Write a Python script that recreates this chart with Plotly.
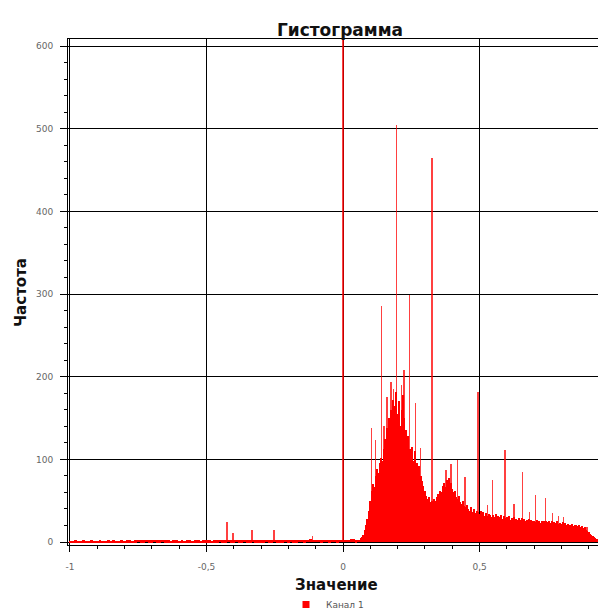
import plotly.graph_objects as go

# ---- data ----
# low-level counts, bins of 0.01 from -1.00 to 0.04
low_start = -1.0
low_width = 0.01
low_counts = [
    1, 1, 2, 1, 1, 2, 1, 1, 2, 1,
    1, 2, 1, 1, 2, 1, 2, 1, 1, 2,
    1, 2, 2, 1, 2, 3, 2, 2, 3, 2,
    2, 3, 2, 2, 3, 2, 2, 1, 2, 2,
    1, 2, 1, 2, 2, 1, 2, 2, 1, 2,
    2, 2, 1, 2, 2, 3, 2, 2, 3, 2,
    2, 3, 2, 2, 3, 2, 2, 3, 2, 2,
    2, 2, 3, 2, 2, 3, 2, 2, 2, 3,
    2, 3, 2, 2, 3, 3, 2, 3, 4, 3,
    3, 3, 2, 3, 3, 2, 3, 3, 2, 3,
    3, 3, 3, 4, 4,
]

# main body counts, bins of 0.005 from 0.050 to 0.945
body_start = 0.05
body_width = 0.005
body_counts = [
    2, 3, 3, 5, 6, 9, 14, 20, 28, 38,
    50, 62, 70, 66, 80, 88, 84, 95, 102, 98,
    112, 125, 138, 128, 150, 160, 148, 172, 165, 182,
    155, 170, 140, 160, 178, 150, 135, 120, 128, 112,
    105, 115, 98, 110, 95, 88, 92, 80, 74, 68,
    62, 56, 52, 55, 48, 50, 46, 52, 50, 55,
    58, 62, 60, 68, 72, 66, 75, 70, 78, 72,
    64, 60, 62, 55, 52, 56, 48, 46, 50, 44,
    42, 45, 40, 38, 42, 36, 40, 35, 38, 36,
    34, 38, 33, 36, 32, 35, 31, 34, 33, 30,
    33, 30, 34, 29, 32, 30, 33, 28, 31, 29,
    30, 28, 31, 27, 29, 30, 26, 28, 27, 29,
    27, 29, 26, 28, 25, 27, 28, 24, 27, 25,
    26, 24, 27, 25, 26, 23, 25, 26, 24, 25,
    24, 26, 23, 25, 22, 24, 23, 25, 22, 23,
    22, 24, 21, 23, 20, 22, 21, 20, 22, 19,
    20, 21, 19, 20, 18, 19, 17, 18, 15, 13,
    12, 10, 9, 7, 6, 5, 4, 3, 2, 1,
]

# isolated narrow peaks
spike_values = [
    -0.425, -0.403, -0.333, -0.253, -0.113, 0.0,
    0.105, 0.120, 0.140, 0.150, 0.161, 0.176, 0.186, 0.196, 0.213, 0.223,
    0.243, 0.266, 0.283, 0.326, 0.377, 0.395, 0.420, 0.447, 0.494,
    0.530, 0.548, 0.593, 0.626, 0.657, 0.682, 0.706, 0.741, 0.768,
    0.788, 0.806, 0.855, 0.893,
]
spike_counts = [
    24, 11, 14, 14, 7, 650,
    138, 123, 286, 140, 175, 193, 185, 504, 190, 208,
    299, 168, 114, 464, 87, 94, 99, 79, 182,
    45, 75, 111, 46, 85, 36, 57, 53, 35,
    32, 30, 21, 18,
]

x_tick_values = [-1, -0.5, 0, 0.5]
x_tick_labels = ["-1", "-0,5", "0", "0,5"]
y_tick_values = [0, 100, 200, 300, 400, 500, 600]

title_text = "Гистограмма"
x_title = "Значение"
y_title = "Частота"
series_name = "Канал 1"

# ---- figure ----
RED = "#ff0000"
FONT = "DejaVu Sans"
OFF = 8                     # default page body margin
W, H = 606 - OFF, 620 - OFF
ML, MR, MT, MB = 68 - OFF, 0, 39 - OFF, 75

plot_w = W - ML - MR
plot_h = H - MT - MB


def px_x(page_x):
    return (page_x - OFF - ML) / plot_w


def px_y(page_y):
    return 1 - (page_y - OFF - MT) / plot_h


low_x = [low_start + i * low_width for i in range(len(low_counts))]
body_x = [body_start + i * body_width for i in range(len(body_counts))]

fig = go.Figure()
fig.add_trace(go.Bar(
    x=body_x, y=body_counts, width=body_width, name=series_name,
    marker=dict(color=RED, line=dict(width=0)), showlegend=False,
    legendgroup="c1",
))
fig.add_trace(go.Bar(
    x=low_x, y=low_counts, width=low_width, name=series_name,
    marker=dict(color=RED, line=dict(width=0)), showlegend=False,
    legendgroup="c1",
))
fig.add_trace(go.Bar(
    x=spike_values, y=spike_counts, width=0.0045, name=series_name,
    marker=dict(color="rgba(255,0,0,0.75)", line=dict(width=0)),
    showlegend=False, legendgroup="c1",
))
# legend entry (small square marker like the reference)
fig.add_trace(go.Scatter(
    x=[None], y=[None], mode="markers", name=series_name,
    marker=dict(symbol="square", size=7, color=RED), legendgroup="c1",
    showlegend=True,
))

axis_common = dict(
    showgrid=True, gridcolor="#000000", gridwidth=1,
    showline=True, linecolor="#000000", linewidth=1,
    ticks="outside", tickcolor="#000000",
    zeroline=False, automargin=False,
    tickfont=dict(family=FONT, size=9, color="#666666"),
)

fig.update_layout(
    width=W, height=H,
    margin=dict(l=ML, r=MR, t=MT, b=MB),
    paper_bgcolor="white", plot_bgcolor="white",
    barmode="overlay", bargap=0,
    separators=", ",
    title=dict(text="<b>" + title_text + "</b>", x=(340 - OFF) / W,
               xanchor="center", y=1 - (30 - OFF) / H, yanchor="middle",
               font=dict(family=FONT, size=17, color="#111111")),
    xaxis=dict(
        range=[-1.007, 0.963], tickvals=x_tick_values, ticktext=x_tick_labels,
        mirror=True, ticklen=6, ticklabelstandoff=7,
        minor=dict(dtick=0.1, tick0=0, ticks="outside", ticklen=3,
                   tickcolor="#000000", showgrid=False),
        **axis_common,
    ),
    yaxis=dict(
        range=[-3.6, 608.5], tickvals=y_tick_values, ticklen=7,
        ticklabelstandoff=5,
        minor=dict(dtick=20, tick0=0, ticks="outside", ticklen=3,
                   tickcolor="#000000", showgrid=False),
        **axis_common,
    ),
    legend=dict(orientation="h", x=px_x(286), xanchor="left",
                y=px_y(619), yanchor="bottom",
                itemsizing="trace",
                font=dict(family=FONT, size=9, color="#555555"),
                bgcolor="rgba(0,0,0,0)"),
    annotations=[
        dict(text="<b>" + x_title + "</b>", xref="paper", yref="paper",
             x=px_x(336), y=px_y(585),
             xanchor="center", yanchor="middle", showarrow=False,
             font=dict(family=FONT, size=15, color="#111111")),
        dict(text="<b>" + y_title + "</b>", xref="paper", yref="paper",
             x=px_x(21), y=px_y(293),
             xanchor="center", yanchor="middle", textangle=-90, showarrow=False,
             font=dict(family=FONT, size=15, color="#111111")),
    ],
)

fig.write_html("out.html")
